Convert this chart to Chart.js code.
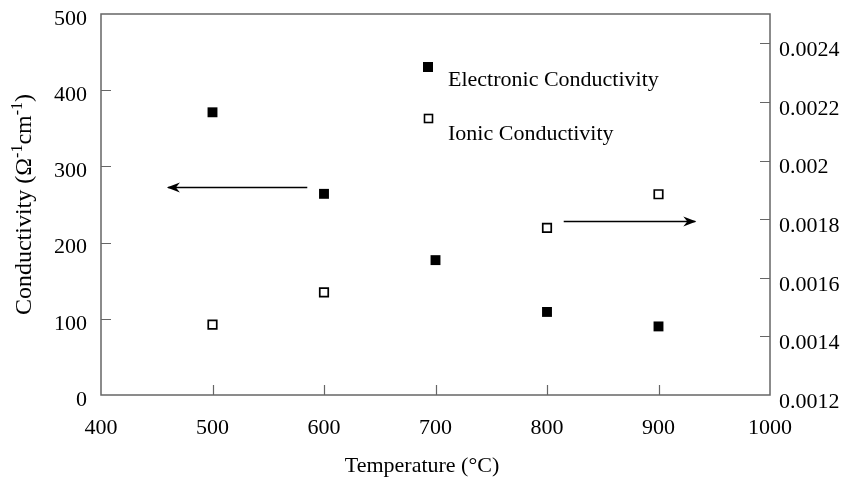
<!DOCTYPE html>
<html>
<head>
<meta charset="utf-8">
<script src="https://cdn.jsdelivr.net/npm/chart.js@4"></script>
<style>
  html, body { margin: 0; padding: 0; background: #ffffff; }
  #wrap { width: 844px; height: 478px; position: relative; }
</style>
</head>
<body>
<div id="wrap"><canvas id="chart" width="844" height="478"></canvas></div>
<script>
// Temperatures (°C)
const temperatures = [500, 600, 700, 800, 900];
// Electronic conductivity, left axis (Ω⁻¹cm⁻¹)
const electronic = [371, 264, 177, 109, 90];
// Ionic conductivity, right axis (Ω⁻¹cm⁻¹)
const ionic = [0.00144, 0.00155, null, 0.00177, 0.001885];

const seriesNames = ['Electronic Conductivity', 'Ionic Conductivity'];
const xTitle = 'Temperature (°C)';

const FONT = '"Liberation Serif", "Times New Roman", serif';
const INK = '#000000';
const FRAME = '#666666';

function toPoints(xs, ys) {
  return xs.map((x, i) => ({ x: x, y: ys[i] })).filter(p => p.y !== null);
}

// Frame, inward tick marks, legend, axis titles and the direction arrows
const decorations = {
  id: 'decorations',
  afterDraw(chart) {
    const ctx = chart.ctx;
    const a = chart.chartArea;
    const sx = chart.scales.x, sy = chart.scales.y, sy2 = chart.scales.y2;
    ctx.save();

    // frame
    ctx.strokeStyle = FRAME;
    ctx.lineWidth = 1.5;
    ctx.strokeRect(a.left, a.top, a.right - a.left, a.bottom - a.top);

    // inward ticks
    ctx.beginPath();
    sx.ticks.forEach(t => {
      if (t.value <= sx.min || t.value >= sx.max) return;
      const px = Math.round(sx.getPixelForValue(t.value)) + 0.5;
      ctx.moveTo(px, a.bottom); ctx.lineTo(px, a.bottom - 10);
    });
    sy.ticks.forEach(t => {
      if (t.value <= sy.min || t.value >= sy.max) return;
      const py = Math.round(sy.getPixelForValue(t.value)) + 0.5;
      ctx.moveTo(a.left, py); ctx.lineTo(a.left + 10, py);
    });
    sy2.ticks.forEach(t => {
      if (t.value <= sy2.min + 1e-9 || t.value >= sy2.max - 1e-9) return;
      const py = Math.round(sy2.getPixelForValue(t.value)) + 0.5;
      ctx.moveTo(a.right, py); ctx.lineTo(a.right - 10, py);
    });
    ctx.lineWidth = 1.2;
    ctx.stroke();

    // legend
    ctx.fillStyle = INK;
    ctx.strokeStyle = INK;
    ctx.fillRect(423, 62, 10, 10);
    ctx.lineWidth = 1.6;
    ctx.strokeRect(424.5, 114.5, 8, 8);
    ctx.font = '22px ' + FONT;
    ctx.textBaseline = 'alphabetic';
    ctx.textAlign = 'left';
    ctx.fillText(seriesNames[0], 448, 86);
    ctx.fillText(seriesNames[1], 448, 140);

    // x title
    ctx.textAlign = 'center';
    ctx.fillText(xTitle, 422, 472);

    // y title with superscripts
    const parts = [
      ['Conductivity (Ω', false], ['-1', true], ['cm', false], ['-1', true], [')', false]
    ];
    const big = '24px ' + FONT, small = '16px ' + FONT;
    let total = 0;
    parts.forEach(p => { ctx.font = p[1] ? small : big; total += ctx.measureText(p[0]).width; });
    ctx.translate(31, (a.top + a.bottom) / 2);
    ctx.rotate(-Math.PI / 2);
    ctx.textAlign = 'left';
    let cx = -total / 2;
    parts.forEach(p => {
      ctx.font = p[1] ? small : big;
      ctx.fillText(p[0], cx, p[1] ? -9 : 0);
      cx += ctx.measureText(p[0]).width;
    });
    ctx.setTransform(1, 0, 0, 1, 0, 0);

    // direction arrows
    function arrow(x0, x1, y) {
      ctx.beginPath();
      ctx.moveTo(x0, y); ctx.lineTo(x1, y);
      ctx.lineWidth = 1.3;
      ctx.stroke();
      const dir = x1 > x0 ? 1 : -1;
      ctx.beginPath();
      ctx.moveTo(x1 + dir, y);
      ctx.lineTo(x1 - dir * 12, y - 5);
      ctx.lineTo(x1 - dir * 8, y);
      ctx.lineTo(x1 - dir * 12, y + 5);
      ctx.closePath();
      ctx.fill();
    }
    const yL = Math.round(sy.getPixelForValue(273)) + 0.5;
    arrow(sx.getPixelForValue(585), sx.getPixelForValue(460), yL);
    const yR = Math.round(sy2.getPixelForValue(0.001792)) + 0.5;
    arrow(sx.getPixelForValue(815), sx.getPixelForValue(933), yR);

    ctx.restore();
  }
};

new Chart(document.getElementById('chart'), {
  type: 'scatter',
  data: {
    datasets: [
      {
        label: seriesNames[0],
        data: toPoints(temperatures, electronic),
        yAxisID: 'y',
        pointStyle: 'rect',
        pointRadius: 7,
        pointHoverRadius: 7,
        backgroundColor: INK,
        borderColor: INK,
        borderWidth: 0
      },
      {
        label: seriesNames[1],
        data: toPoints(temperatures, ionic),
        yAxisID: 'y2',
        pointStyle: 'rect',
        pointRadius: 6,
        pointHoverRadius: 6,
        backgroundColor: '#ffffff',
        borderColor: INK,
        borderWidth: 1.7
      }
    ]
  },
  plugins: [decorations],
  options: {
    responsive: false,
    animation: false,
    events: [],
    layout: { padding: { top: 14, left: 0, right: 0, bottom: 0 } },
    plugins: { legend: { display: false }, tooltip: { enabled: false } },
    scales: {
      x: {
        type: 'linear',
        position: 'bottom',
        min: 400, max: 1000,
        grid: { display: false, drawTicks: false },
        border: { display: false },
        ticks: {
          stepSize: 100, color: INK, font: { family: FONT, size: 22 }, padding: 20, maxRotation: 0,
          callback: v => String(v)
        },
        afterFit(s) { s.height = 83; s.paddingLeft = 0; s.paddingRight = 0; }
      },
      y: {
        position: 'left',
        min: 0, max: 500,
        grid: { display: false, drawTicks: false },
        border: { display: false },
        ticks: { stepSize: 100, color: INK, font: { family: FONT, size: 22 }, padding: 14, labelOffset: 5 },
        afterFit(s) { s.width = 101; s.paddingTop = 0; s.paddingBottom = 0; }
      },
      y2: {
        position: 'right',
        min: 0.0012, max: 0.0025,
        grid: { display: false, drawTicks: false },
        border: { display: false },
        ticks: {
          stepSize: 0.0002, color: INK, font: { family: FONT, size: 22 }, padding: 9, labelOffset: 7,
          callback: v => (v > 0.00245 ? '' : String(Number(v.toFixed(4))))
        },
        afterFit(s) { s.width = 74; s.paddingTop = 0; s.paddingBottom = 0; }
      }
    }
  }
});
</script>
</body>
</html>
